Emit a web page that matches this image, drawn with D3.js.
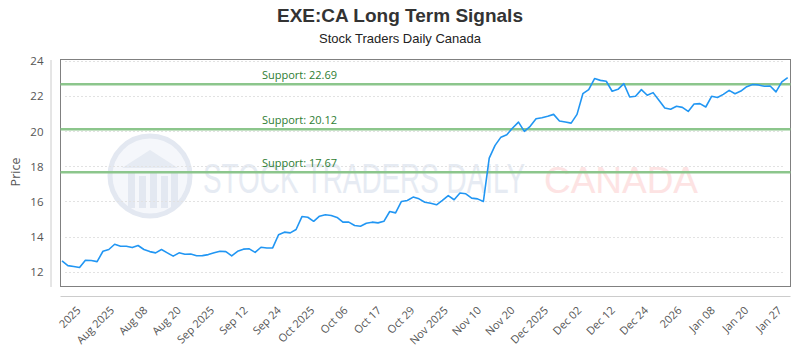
<!DOCTYPE html>
<html>
<head>
<meta charset="utf-8">
<script src="https://cdn.jsdelivr.net/npm/d3@7"></script>
<style>
  body { margin: 0; background: #fff; }
  svg { display: block; }
</style>
</head>
<body>
<div id="chart"></div>
<script>
var prices = [12.61, 12.34, 12.29, 12.23, 12.65, 12.63, 12.57, 13.16, 13.26, 13.56,
  13.45, 13.45, 13.37, 13.49, 13.26, 13.14, 13.07, 13.26, 13.07, 12.88,
  13.07, 12.99, 13.00, 12.90, 12.91, 12.97, 13.07, 13.16, 13.14, 12.90,
  13.16, 13.28, 13.30, 13.10, 13.39, 13.35, 13.35, 14.10, 14.25, 14.21,
  14.40, 15.14, 15.10, 14.87, 15.16, 15.24, 15.20, 15.09, 14.82, 14.82,
  14.63, 14.59, 14.76, 14.82, 14.78, 14.87, 15.43, 15.35, 16.00, 16.06,
  16.25, 16.15, 15.96, 15.90, 15.81, 16.06, 16.34, 16.10, 16.48, 16.44,
  16.19, 16.15, 16.00, 18.47, 19.20, 19.67, 19.81, 20.19, 20.53, 20.00,
  20.29, 20.72, 20.78, 20.86, 20.97, 20.59, 20.53, 20.47, 20.97, 22.15,
  22.38, 23.01, 22.91, 22.86, 22.29, 22.40, 22.72, 21.96, 22.00, 22.38,
  22.06, 22.21, 21.77, 21.33, 21.26, 21.43, 21.37, 21.14, 21.56, 21.58,
  21.39, 22.00, 21.93, 22.11, 22.34, 22.15, 22.30, 22.55, 22.67, 22.65,
  22.57, 22.59, 22.25, 22.82, 23.07];

var supports = [22.69, 20.12, 17.67];

var yTicks = [12, 14, 16, 18, 20, 22, 24];

var xLabels = ['2025', 'Aug 2025', 'Aug 08', 'Aug 20', 'Sep 2025', 'Sep 12', 'Sep 24',
  'Oct 2025', 'Oct 06', 'Oct 17', 'Oct 29', 'Nov 2025', 'Nov 10', 'Nov 20',
  'Dec 2025', 'Dec 02', 'Dec 12', 'Dec 24', '2026', 'Jan 08', 'Jan 20', 'Jan 27'];

var chart = (function() {

  var config = {
    width: 800,
    height: 350,
    left: 60.5,
    right: 790.5,
    top: 59.5,
    bottom: 286.5,
    font: '"Open Sans", "Noto Sans", sans-serif',
    narrow: '"Liberation Sans Narrow", "Liberation Sans", sans-serif'
  };
  var svg, x, y, xl;

  function init() {
    svg = d3.select('#chart').append('svg')
      .attr('width', config.width)
      .attr('height', config.height);

    x = d3.scaleLinear().domain([0, prices.length - 1]).range([62, 787.7]);
    y = d3.scaleLinear().domain([11.15, 24.1]).range([config.bottom, config.top]);
    xl = d3.scalePoint().domain(xLabels).range([81, 782]);

    drawTitles();
    drawWatermark();
    drawGrid();
    drawSupports();
    drawLine();
    drawAxes();
  }

  function drawTitles() {
    svg.append('text')
      .attr('x', 400).attr('y', 22)
      .attr('text-anchor', 'middle')
      .style('font-family', config.narrow)
      .style('font-weight', 'bold')
      .style('font-size', '19px')
      .style('fill', '#333')
      .text('EXE:CA Long Term Signals');

    svg.append('text')
      .attr('x', 400).attr('y', 43)
      .attr('text-anchor', 'middle')
      .style('font-family', config.narrow)
      .style('font-size', '13px')
      .style('fill', '#222')
      .text('Stock Traders Daily Canada');
  }

  function drawWatermark() {
    var wm = svg.append('g').attr('class', 'watermark');

    wm.append('circle')
      .attr('cx', 150).attr('cy', 176).attr('r', 40)
      .style('fill', '#f5f7fb')
      .style('stroke', '#e3e8f1')
      .style('stroke-width', 5);

    // little building inside the logo
    wm.append('path')
      .attr('d', 'M122,168 L150,150 L178,168 Z')
      .style('fill', '#e6ebf3');
    [128, 139, 150, 161, 171].forEach(function(bx, i) {
      wm.append('rect')
        .attr('x', bx).attr('y', 172 + (i % 2) * 4)
        .attr('width', 7).attr('height', 36 - (i % 2) * 4)
        .style('fill', '#e3e8f1');
    });

    wm.append('text')
      .attr('x', 203).attr('y', 193)
      .attr('textLength', 322)
      .attr('lengthAdjust', 'spacingAndGlyphs')
      .style('font-family', config.narrow)
      .style('font-size', '42px')
      .style('fill', '#e6ebf3')
      .text('STOCK TRADERS DAILY');

    wm.append('text')
      .attr('x', 544).attr('y', 193)
      .attr('textLength', 154)
      .attr('lengthAdjust', 'spacingAndGlyphs')
      .style('font-family', '"Liberation Sans", Arial, sans-serif')
      .style('font-size', '37px')
      .style('fill', '#fde3e3')
      .text('CANADA');
  }

  function drawGrid() {
    svg.append('g')
      .selectAll('line')
      .data(yTicks)
      .enter().append('line')
      .attr('x1', 65).attr('x2', 783)
      .attr('y1', function(d) { return Math.round(y(d)) + 0.5; })
      .attr('y2', function(d) { return Math.round(y(d)) + 0.5; })
      .style('stroke', '#e2e2e2')
      .style('stroke-dasharray', '2,2');

    svg.append('rect')
      .attr('x', config.left).attr('y', config.top)
      .attr('width', config.right - config.left)
      .attr('height', config.bottom - config.top)
      .style('fill', 'none')
      .style('stroke', '#808080');
  }

  function drawSupports() {
    var g = svg.append('g');

    g.selectAll('line')
      .data(supports)
      .enter().append('line')
      .attr('x1', config.left).attr('x2', config.right)
      .attr('y1', function(d) { return y(d); })
      .attr('y2', function(d) { return y(d); })
      .style('stroke', '#8cc68c')
      .style('stroke-width', 2.5);

    g.selectAll('text')
      .data(supports)
      .enter().append('text')
      .attr('x', 262)
      .attr('y', function(d) { return y(d) - 5.5; })
      .style('font-family', config.font)
      .style('font-size', '11px')
      .style('fill', '#2e7d32')
      .text(function(d) { return 'Support: ' + d.toFixed(2); });
  }

  function drawLine() {
    var line = d3.line()
      .x(function(d, i) { return x(i); })
      .y(function(d) { return y(d); });

    svg.append('path')
      .datum(prices)
      .attr('d', line)
      .style('fill', 'none')
      .style('stroke', '#2196f3')
      .style('stroke-width', 1.6)
      .style('stroke-linejoin', 'round');
  }

  function drawAxes() {
    var yAxis = svg.append('g')
      .attr('transform', 'translate(50.5,0)')
      .call(d3.axisLeft(y).tickValues(yTicks).tickSize(0).tickPadding(7));
    yAxis.select('.domain').style('stroke', '#ccc');
    yAxis.selectAll('text')
      .style('font-family', config.font)
      .style('font-size', '11.5px')
      .style('fill', '#555');

    svg.append('line')
      .attr('x1', config.left).attr('x2', config.right)
      .attr('y1', 296.5).attr('y2', 296.5)
      .style('stroke', '#ccc');

    var xAxis = svg.append('g')
      .attr('transform', 'translate(0,311)')
      .call(d3.axisBottom(xl).tickSize(0).tickPadding(0));
    xAxis.select('.domain').remove();
    xAxis.selectAll('text')
      .attr('y', 0).attr('dy', 0)
      .attr('text-anchor', 'end')
      .attr('transform', 'rotate(-45)')
      .style('font-family', config.font)
      .style('font-size', '11px')
      .style('fill', '#555');

    svg.append('text')
      .attr('transform', 'translate(20,172) rotate(-90)')
      .attr('text-anchor', 'middle')
      .style('font-family', config.font)
      .style('font-size', '12.5px')
      .style('fill', '#555')
      .text('Price');
  }

  return {
    init: init
  };

})();

chart.init();
</script>
</body>
</html>
